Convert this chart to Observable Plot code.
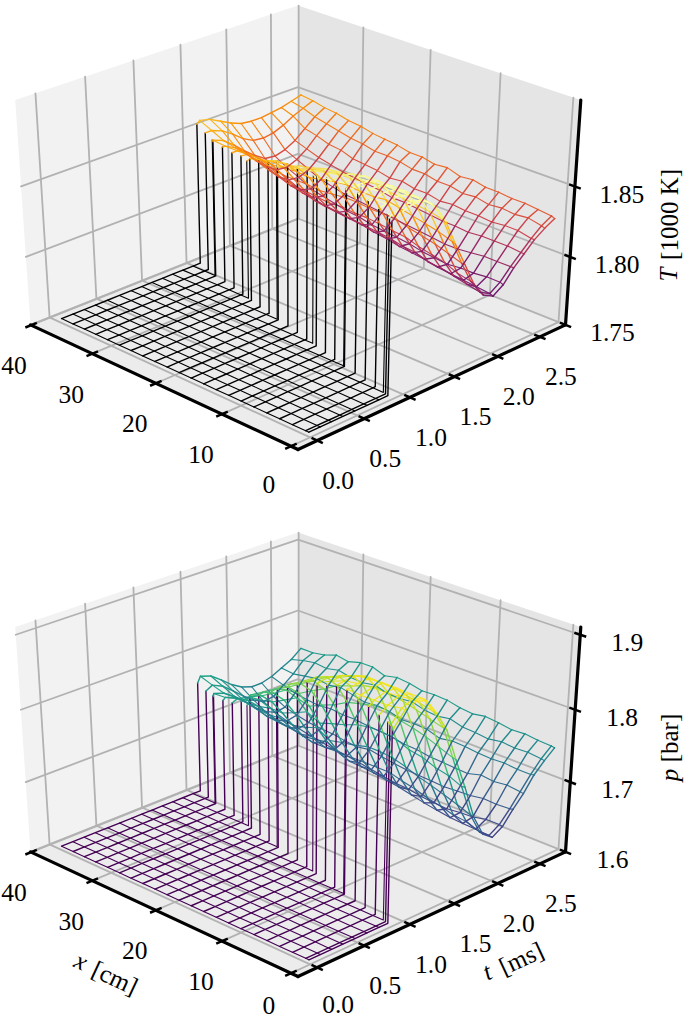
<!DOCTYPE html>
<html><head><meta charset="utf-8">
<style>html,body{margin:0;padding:0;background:#fff}svg{display:block;background:#fff}</style>
<script src="https://cdn.jsdelivr.net/npm/d3@7"></script>
<script src="https://cdn.jsdelivr.net/npm/@observablehq/plot@0.6"></script>
</head><body><div id="top"></div><div id="bot"></div>
<script>
const xs=[.45,.9,2.8,4.65,6.5,8.4,10.3,12.15,14,15.9,17.8,19.65,21.5,23.4,25.3,27.15,29,30.9,32.8,34.65,36.5,38.4];
const ts=[.02,.14,.26,.38,.51,.64,.77,.884,.998,1.113,1.228,1.343,1.458,1.572,1.687,1.802,1.917,2.031,2.146,2.261,2.376,2.491,2.606,2.72];
const shockT=[.868,.877,.91,.94,.97,.995,1.03,1.065,1.10,1.135,1.17,1.20,1.225,1.26,1.295,1.33,1.365,1.40,1.43,1.455,1.50,1.54];
const crossT=[.884,.998,1.113,1.228,1.343,1.458];
const crossX=[1.3,8.56,14.7,21.7,27.8,34.8];
const xTicks=[0,10,20,30,40], tTicks=[0,.5,1,1.5,2,2.5];
const xLabels=["0","10","20","30","40"], tLabels=["0.0","0.5","1.0","1.5","2.0","2.5"];
const xLim=[-1,40.1], tLim=[-.2,2.81];

const tempFloor=1.752;
const tempTopAtX=[1.873,1.874,1.876,1.877,1.878,1.877,1.877,1.875,1.873,1.872,1.870,1.868,1.866,1.862,1.859,1.855,1.853,1.851,1.851,1.851,1.853,1.855];
const tempTopAtT=[1.876,1.876,1.871,1.860,1.852,1.852];
const tempRows=[
[1.874,1.877,1.879,1.877,1.870,1.857,1.839,1.822,1.805,1.794,1.790,1.795,1.804,1.811,1.818,1.823,1.827],
[1.875,1.878,1.879,1.877,1.871,1.858,1.840,1.822,1.806,1.795,1.791,1.796,1.804,1.811,1.818,1.824,1.828],
[1.877,1.879,1.877,1.872,1.860,1.843,1.825,1.808,1.797,1.792,1.796,1.804,1.812,1.820,1.826,1.829],
[1.876,1.878,1.877,1.873,1.861,1.845,1.828,1.812,1.799,1.793,1.795,1.804,1.812,1.820,1.825,1.830],
[1.875,1.877,1.877,1.873,1.862,1.847,1.830,1.814,1.801,1.794,1.795,1.803,1.812,1.819,1.826,1.830],
[1.874,1.876,1.876,1.873,1.863,1.849,1.832,1.816,1.802,1.795,1.794,1.802,1.811,1.820,1.825,1.831],
[1.874,1.875,1.873,1.865,1.851,1.835,1.819,1.805,1.797,1.795,1.802,1.812,1.820,1.827,1.831],
[1.872,1.873,1.871,1.863,1.850,1.835,1.820,1.806,1.798,1.796,1.803,1.812,1.821,1.826,1.833],
[1.870,1.871,1.869,1.862,1.850,1.835,1.821,1.808,1.799,1.798,1.804,1.813,1.820,1.828,1.832],
[1.869,1.868,1.862,1.851,1.836,1.822,1.809,1.801,1.799,1.805,1.814,1.822,1.828,1.835],
[1.866,1.865,1.860,1.850,1.836,1.822,1.810,1.802,1.800,1.806,1.815,1.822,1.830,1.834],
[1.864,1.863,1.858,1.848,1.835,1.823,1.811,1.804,1.801,1.807,1.815,1.824,1.830,1.836],
[1.862,1.860,1.855,1.846,1.834,1.822,1.812,1.805,1.803,1.808,1.817,1.823,1.832,1.836],
[1.860,1.855,1.847,1.835,1.823,1.813,1.806,1.804,1.809,1.818,1.825,1.833,1.838],
[1.857,1.853,1.846,1.835,1.824,1.814,1.807,1.806,1.810,1.819,1.826,1.833,1.839],
[1.855,1.851,1.845,1.835,1.825,1.816,1.810,1.808,1.812,1.820,1.827,1.835,1.840],
[1.852,1.846,1.837,1.827,1.818,1.812,1.810,1.814,1.822,1.830,1.836,1.842],
[1.851,1.846,1.838,1.829,1.821,1.816,1.815,1.818,1.824,1.831,1.838,1.843],
[1.851,1.847,1.840,1.832,1.825,1.820,1.819,1.822,1.827,1.834,1.840,1.845],
[1.852,1.849,1.843,1.836,1.830,1.825,1.824,1.826,1.830,1.836,1.842,1.846],
[1.853,1.850,1.845,1.839,1.835,1.834,1.835,1.838,1.842,1.845,1.848],
[1.857,1.855,1.851,1.847,1.844,1.843,1.843,1.844,1.845,1.847,1.849]];

const pressFloor=1.603;
const pressTopAtX=[1.866,1.868,1.872,1.875,1.877,1.880,1.878,1.870,1.862,1.858,1.846,1.835,1.825,1.810,1.800,1.790,1.775,1.765,1.760,1.758,1.757,1.760];
const pressTopAtT=[1.870,1.868,1.845,1.815,1.775,1.758];
const pressRows=[
[1.865,1.882,1.888,1.883,1.861,1.834,1.789,1.746,1.699,1.669,1.658,1.667,1.685,1.701,1.721,1.735,1.747],
[1.867,1.883,1.889,1.884,1.862,1.835,1.790,1.745,1.700,1.670,1.659,1.668,1.684,1.702,1.720,1.736,1.748],
[1.880,1.886,1.884,1.866,1.840,1.797,1.753,1.707,1.677,1.660,1.668,1.683,1.704,1.720,1.738,1.749],
[1.880,1.885,1.885,1.870,1.845,1.804,1.757,1.713,1.679,1.661,1.664,1.684,1.702,1.722,1.737,1.751],
[1.880,1.884,1.885,1.873,1.850,1.809,1.764,1.719,1.684,1.662,1.663,1.681,1.704,1.721,1.739,1.750],
[1.881,1.883,1.884,1.874,1.852,1.813,1.767,1.724,1.688,1.665,1.661,1.680,1.699,1.722,1.736,1.753],
[1.880,1.881,1.875,1.855,1.820,1.775,1.731,1.694,1.668,1.662,1.679,1.700,1.724,1.738,1.755],
[1.873,1.875,1.869,1.851,1.819,1.777,1.736,1.698,1.672,1.664,1.680,1.701,1.725,1.739,1.752],
[1.865,1.867,1.861,1.844,1.815,1.777,1.738,1.703,1.676,1.667,1.681,1.702,1.722,1.744,1.754],
[1.860,1.855,1.838,1.810,1.774,1.738,1.703,1.679,1.668,1.682,1.705,1.728,1.741,1.758],
[1.848,1.843,1.827,1.800,1.767,1.733,1.703,1.682,1.671,1.684,1.706,1.729,1.743,1.759],
[1.838,1.833,1.818,1.793,1.762,1.730,1.703,1.684,1.674,1.687,1.709,1.728,1.748,1.758],
[1.827,1.822,1.808,1.785,1.756,1.726,1.702,1.685,1.677,1.690,1.711,1.733,1.746,1.762],
[1.813,1.806,1.790,1.765,1.737,1.711,1.692,1.680,1.687,1.712,1.735,1.747,1.764],
[1.802,1.795,1.780,1.757,1.731,1.708,1.691,1.682,1.689,1.714,1.733,1.752,1.760],
[1.792,1.785,1.771,1.750,1.727,1.706,1.691,1.685,1.692,1.714,1.737,1.749,1.766],
[1.777,1.767,1.750,1.730,1.711,1.696,1.688,1.693,1.716,1.741,1.750,1.766],
[1.768,1.760,1.746,1.729,1.712,1.699,1.692,1.695,1.714,1.738,1.754,1.761],
[1.763,1.757,1.745,1.730,1.714,1.703,1.696,1.699,1.716,1.741,1.750,1.764],
[1.762,1.757,1.747,1.734,1.720,1.709,1.702,1.704,1.719,1.738,1.752,1.758],
[1.762,1.755,1.743,1.730,1.719,1.711,1.713,1.724,1.735,1.749,1.755],
[1.768,1.763,1.752,1.740,1.731,1.726,1.726,1.730,1.737,1.744,1.755]];

// camera (view of a matplotlib 3D axes)
const elev=30*Math.PI/180, azim=-135*Math.PI/180, dist=9;
const box=[1.19,1.19,1.0];
const D=[Math.cos(elev)*Math.cos(azim),Math.cos(elev)*Math.sin(azim),Math.sin(elev)];
const eye=box.map((b,k)=>b/2+dist*D[k]);
const U=[Math.SQRT1_2,-Math.SQRT1_2,0];
const V=[D[1]*U[2]-D[2]*U[1],D[2]*U[0]-D[0]*U[2],D[0]*U[1]-D[1]*U[0]];
const dot=(a,b)=>a[0]*b[0]+a[1]*b[1]+a[2]*b[2];
function view(a,b,c){const p=[a*box[0]-eye[0],b*box[1]-eye[1],c*box[2]-eye[2]];const s=-dot(D,p);return [dot(U,p)/s,dot(V,p)/s];}
const fam="Liberation Serif";
const tick={fontSize:25.5,fontFamily:fam,fill:"#000"};

function panel(o){
  const zLim=o.zLim, zT=o.zTicks;
  const P=(t,x,z)=>{const q=view((t-tLim[0])/(tLim[1]-tLim[0]),(x-xLim[0])/(xLim[1]-xLim[0]),(z-zLim[0])/(zLim[1]-zLim[0]));return {px:q[0],py:q[1]};};
  const [t0,t1]=tLim,[x0,x1]=xLim,[z0,z1]=zLim;
  const left=P(t0,x1,z0),right=P(t1,x0,z0),front=P(t0,x0,z0),back=P(t1,x1,z0);
  const wallL=[P(t0,x1,z0),P(t1,x1,z0),P(t1,x1,z1),P(t0,x1,z1)];
  const wallR=[P(t1,x1,z0),P(t1,x0,z0),P(t1,x0,z1),P(t1,x1,z1)];
  const floor=[P(t0,x0,z0),P(t1,x0,z0),P(t1,x1,z0),P(t0,x1,z0)];
  const grid=[];
  const add=(arr,id,pts)=>pts.forEach(p=>arr.push({...p,id}));
  xTicks.forEach(x=>add(grid,"x"+x,[P(t0,x,z0),P(t1,x,z0),P(t1,x,z1)]));
  tTicks.forEach(t=>add(grid,"t"+t,[P(t,x0,z0),P(t,x1,z0),P(t,x1,z1)]));
  zT.forEach(z=>add(grid,"z"+z,[P(t0,x1,z),P(t1,x1,z),P(t1,x0,z)]));
  const axes=[];
  add(axes,"ax",[P(t0,x1,z0),P(t0,x0,z0)]);
  add(axes,"at",[P(t0,x0,z0),P(t1,x0,z0)]);
  add(axes,"az",[P(t1,x0,z0),P(t1,x0,z1)]);
  const tk=[];
  xTicks.forEach(x=>{const a=P(t0-.06,x,z0),b=P(t0+.06,x,z0);tk.push({x1:a.px,y1:a.py,x2:b.px,y2:b.py});});
  tTicks.forEach(t=>{const a=P(t,x0-.8,z0),b=P(t,x0+.8,z0);tk.push({x1:a.px,y1:a.py,x2:b.px,y2:b.py});});
  zT.forEach(z=>{const a=P(t1,x0-.8,z),b=P(t1,x0+.8,z);tk.push({x1:a.px,y1:a.py,x2:b.px,y2:b.py});});
  const F=o.floor, rows=o.rows, wireR=[], wireC=[];
  const start=rows.map(r=>24-r.length);
  const val=(i,j)=>j>=start[i]?rows[i][j-start[i]]:F;
  xs.forEach((x,i)=>{
    const pts=[];
    ts.forEach((t,j)=>{ if(j<start[i]) pts.push([t,F]); });
    pts.push([shockT[i],F],[shockT[i],o.topAtX[i]]);
    rows[i].forEach((v,k)=>pts.push([ts[start[i]+k],v]));
    pts.forEach(q=>wireR.push({...P(q[0],x,q[1]),val:q[1],id:"r"+i}));
  });
  const last=xs.length-1;
  ts.forEach((t,j)=>{
    const c=crossT.indexOf(t), pts=[];
    for(let i=last;i>=0;i--){
      if(c>=0&&xs[i]<crossX[c]&&(i==last||xs[i+1]>=crossX[c])) pts.push([crossX[c],F],[crossX[c],o.topAtT[c]]);
      pts.push([xs[i],val(i,j)]);
    }
    pts.forEach(q=>wireC.push({...P(t,q[0],q[1]),val:q[1],id:"c"+j}));
  });
  const xL=xTicks.map((x,k)=>({...P(t0,x,z0),s:xLabels[k]}));
  const tL=tTicks.map((t,k)=>({...P(t,x0,z0),s:tLabels[k]}));
  const zL=zT.map((z,k)=>({...P(t1,x0,z),s:o.zLabels[k]}));
  const marks=[
    Plot.line(wallL,{x:"px",y:"py",fill:"#f2f2f2",stroke:"none"}),
    Plot.line(wallR,{x:"px",y:"py",fill:"#e5e5e5",stroke:"none"}),
    Plot.line(floor,{x:"px",y:"py",fill:"#ececec",stroke:"none"}),
    Plot.line(grid,{x:"px",y:"py",z:"id",stroke:"#b2b2b2",strokeWidth:1.8}),
    Plot.line(wireC,{x:"px",y:"py",z:"id",stroke:"val",strokeWidth:1.1,strokeLinejoin:"round"}),
    Plot.line(wireR,{x:"px",y:"py",z:"id",stroke:"val",strokeWidth:1.4,strokeLinejoin:"round"}),
    Plot.line(axes,{x:"px",y:"py",z:"id",stroke:"#000",strokeWidth:3.2,strokeLinecap:"round"}),
    Plot.link(tk,{x1:"x1",y1:"y1",x2:"x2",y2:"y2",stroke:"#000",strokeWidth:2.5}),
    Plot.text(xL.slice(1,4),{x:"px",y:"py",text:"s",dx:-21,dy:41,...tick}),
    Plot.text(xL.slice(0,1),{x:"px",y:"py",text:"s",dx:-22,dy:o.zeroDy,...tick}),
    Plot.text(xL.slice(4),{x:"px",y:"py",text:"s",dx:-17,dy:41,...tick}),
    Plot.text(tL.slice(0,1),{x:"px",y:"py",text:"s",dx:21,dy:o.tZeroDy,...tick}),
    Plot.text(tL.slice(1),{x:"px",y:"py",text:"s",dx:21,dy:40,...tick}),
    Plot.text(zL,{x:"px",y:"py",text:"s",dx:47,dy:8,...tick}),
    ...o.extra(P)
  ];
  return Plot.plot({width:685,height:o.height,margin:0,
    style:{background:"transparent",fontFamily:fam},
    x:{axis:null,domain:[left.px,right.px],range:[30,565]},
    y:{axis:null,domain:[front.py,back.py],range:[449,218]},
    color:{type:"linear",scheme:o.scheme,domain:[F,o.max]},
    marks});
}
const lbl={fontSize:25,fontFamily:fam,fill:"#000"};
document.getElementById("top").append(panel({height:527,zeroDy:39,tZeroDy:40,zLim:[1.75,1.909],zTicks:[1.75,1.8,1.85],zLabels:["1.75","1.80","1.85"],
  floor:tempFloor,max:1.876,rows:tempRows,topAtX:tempTopAtX,topAtT:tempTopAtT,scheme:"inferno",
  extra:P=>{const a=P(tLim[1],xLim[0],1.85);return [
    Plot.text([a],{x:"px",y:"py",text:()=>"T",dx:94,dy:88,rotate:-90,fontStyle:"italic",...lbl}),
    Plot.text([a],{x:"px",y:"py",text:()=>"[1000 K]",dx:95,dy:28,rotate:-90,...lbl})];}
}));
document.getElementById("bot").append(panel({height:493,zeroDy:33,tZeroDy:37,zLim:[1.6,1.91],zTicks:[1.6,1.7,1.8,1.9],zLabels:["1.6","1.7","1.8","1.9"],
  floor:pressFloor,max:1.889,rows:pressRows,topAtX:pressTopAtX,topAtT:pressTopAtT,scheme:"viridis",
  extra:P=>{const a=P(tLim[1],xLim[0],1.7),b=P(tLim[0],20,1.6),c=P(1.25,xLim[0],1.6);return [
    Plot.text([a],{x:"px",y:"py",text:()=>"p",dx:100,dy:-7,rotate:-90,fontStyle:"italic",...lbl}),
    Plot.text([a],{x:"px",y:"py",text:()=>"[bar]",dx:100,dy:-44,rotate:-90,...lbl}),
    Plot.text([b],{x:"px",y:"py",text:()=>"x",dx:-75,dy:51,rotate:25,fontStyle:"italic",...lbl}),
    Plot.text([b],{x:"px",y:"py",text:()=>"[cm]",dx:-41,dy:68,rotate:25,...lbl}),
    Plot.text([c],{x:"px",y:"py",text:()=>"t",dx:55,dy:58,rotate:-25,fontStyle:"italic",...lbl}),
    Plot.text([c],{x:"px",y:"py",text:()=>"[ms]",dx:89,dy:45,rotate:-25,...lbl})];}
}));
</script></body></html>
